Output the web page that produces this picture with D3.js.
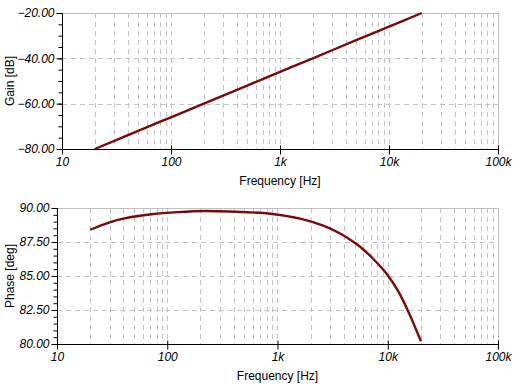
<!DOCTYPE html>
<html><head><meta charset="utf-8">
<script src="https://cdn.jsdelivr.net/npm/d3@7"></script>
<style>
html,body{margin:0;padding:0;background:#fff;}
svg{display:block;font-family:"Liberation Sans",Arial,sans-serif;}
</style></head>
<body>
<svg id="c" width="520" height="390"></svg>
<script>
// ---- data ----
const gainFreq = [20, 50, 100, 200, 500, 1000, 2000, 5000, 10000, 20000];
const gainDb   = [-80, -72, -66, -60, -52, -46, -40, -32, -26, -20];
const phaseFreq = [20, 30, 41, 72, 125, 220, 370, 855, 1600, 2600, 3700, 5200, 6000, 7400, 9800, 12500, 15600, 20000];
const phaseDeg  = [88.4, 88.95, 89.24, 89.54, 89.7, 89.78, 89.74, 89.58, 89.22, 88.7, 88.12, 87.35, 86.95, 86.25, 85.15, 83.85, 82.26, 80.2];
const xTickValues = [10, 100, 1000, 10000, 100000];
const xTickLabels = ["10", "100", "1k", "10k", "100k"];
const gainTicks = [-80, -60, -40, -20];
const phaseTicks = [80, 82.5, 85, 87.5, 90];

const svg = d3.select("#c");
svg.append("rect").attr("width",520).attr("height",390).attr("fill","#fff");

function panel(o){
  const g = svg.append("g");
  const x = d3.scaleLog().domain([10,100000]).range([o.left,o.right]);
  const y = d3.scaleLinear().domain(o.ydom).range([o.bottom,o.top]);
  const vgrid = [];
  for (let d=10; d<100000; d*=10) for (let k=1;k<10;k++){ const v=d*k; if(v>10 && v<100000) vgrid.push(v);}
  g.selectAll(".vg").data(vgrid).enter().append("line")
    .attr("x1",d=>Math.round(x(d))+0.5).attr("x2",d=>Math.round(x(d))+0.5)
    .attr("y1",o.top).attr("y2",o.bottom)
    .attr("stroke","#c4c4c4").attr("stroke-dasharray","5,4");
  g.selectAll(".hg").data(o.yticks.slice(1,-1)).enter().append("line")
    .attr("x1",o.left).attr("x2",o.right)
    .attr("y1",d=>Math.round(y(d))+0.5).attr("y2",d=>Math.round(y(d))+0.5)
    .attr("stroke","#c4c4c4").attr("stroke-dasharray","5,4");
  g.append("line").attr("x1",o.left).attr("x2",o.right+0.5).attr("y1",o.top+0.5).attr("y2",o.top+0.5).attr("stroke","#c0c0c0");
  g.append("line").attr("x1",o.right+0.5).attr("x2",o.right+0.5).attr("y1",o.top).attr("y2",o.bottom).attr("stroke","#c0c0c0");
  const line = d3.line().x(d=>x(d[0])).y(d=>y(d[1])).curve(d3.curveCatmullRom.alpha(0.5));
  g.append("path").datum(o.fx.map((f,i)=>[f,o.vy[i]]))
    .attr("d",line).attr("fill","none").attr("stroke","#780a0a").attr("stroke-width",2.4);
  const xa = d3.axisBottom(x).tickValues(xTickValues).tickFormat((d,i)=>xTickLabels[i]).tickSize(5).tickPadding(3);
  const gx = g.append("g").attr("transform",`translate(0,${o.bottom+0.5})`).call(xa);
  gx.select(".domain").attr("stroke","#000").attr("d",`M${o.left},0H${o.right+0.5}`);
  gx.selectAll(".tick line").attr("stroke","#000").attr("y1",-4);
  gx.selectAll("text").attr("font-size",12).attr("font-style","italic").attr("fill","#000").attr("font-family","Liberation Sans, Arial, sans-serif");
  const ya = d3.axisLeft(y).tickValues(o.yticks).tickFormat(d3.format(".2f")).tickSize(6).tickPadding(2);
  const gy = g.append("g").attr("transform",`translate(${o.left+0.5},0)`).call(ya);
  gy.select(".domain").attr("stroke","#000").attr("d",`M0,${o.top}V${o.bottom+4}`);
  gy.selectAll(".tick line").attr("stroke","#000");
  gy.selectAll("text").attr("font-size",12).attr("font-style","italic").attr("fill","#000").attr("font-family","Liberation Sans, Arial, sans-serif");
  const ya2 = d3.axisLeft(y).ticks(o.minorCount).tickFormat("").tickSize(4);
  const gy2 = g.append("g").attr("transform",`translate(${o.left+0.5},0)`).call(ya2);
  gy2.select(".domain").remove();
  gy2.selectAll(".tick line").attr("stroke","#000");
  g.append("text").attr("x",(o.left+o.right)/2).attr("y",o.bottom+36).attr("text-anchor","middle")
    .attr("font-size",12).text("Frequency [Hz]");
  g.append("text").attr("transform",`translate(14,${(o.top+o.bottom)/2}) rotate(-90)`).attr("text-anchor","middle")
    .attr("font-size",12).text(o.ylabel);
}

panel({left:62,right:498,top:13,bottom:149,ydom:[-80,-20],yticks:gainTicks,minorCount:12,
  fx:gainFreq,vy:gainDb,ylabel:"Gain [dB]"});
panel({left:57,right:498,top:208,bottom:344,ydom:[80,90],yticks:phaseTicks,minorCount:20,
  fx:phaseFreq,vy:phaseDeg,ylabel:"Phase [deg]"});
</script>
</body></html>
